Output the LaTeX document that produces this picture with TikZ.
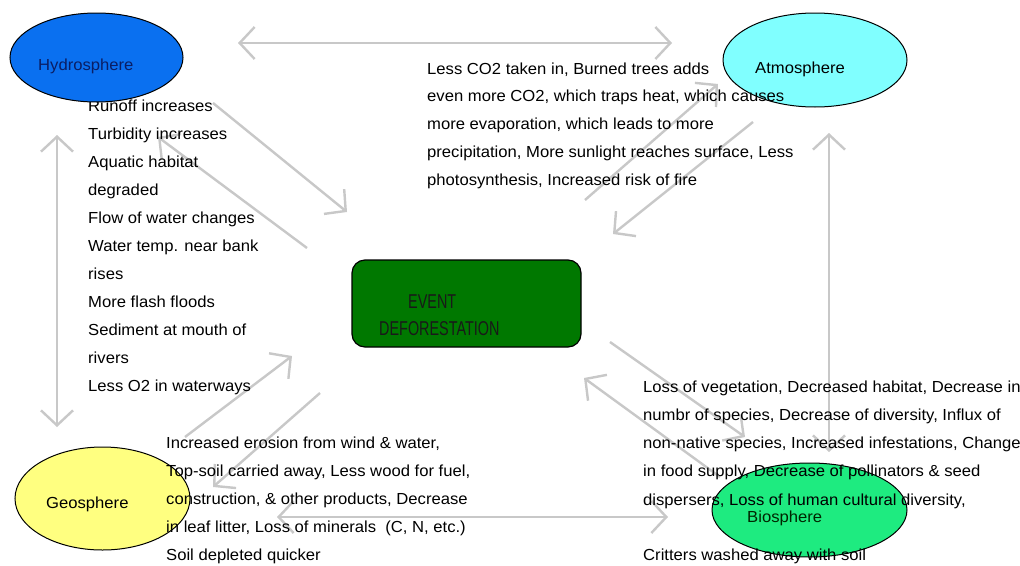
\documentclass[tikz,border=0pt]{standalone}
\usepackage{fontspec}
\setmainfont{Liberation Sans}[FakeStretch=1.04]
\newfontfamily\condfont{Liberation Sans}[FakeStretch=0.72]
\usetikzlibrary{arrows.meta,shapes.geometric}
\definecolor{arrowgray}{RGB}{200,200,200}
\definecolor{hydfill}{RGB}{10,112,240}
\definecolor{atmfill}{RGB}{128,255,255}
\definecolor{geofill}{RGB}{255,255,128}
\definecolor{biofill}{RGB}{30,235,128}
\definecolor{evtfill}{RGB}{0,120,0}
\definecolor{hydtext}{RGB}{10,30,100}
\tikzset{
  conn/.style={draw=arrowgray, line width=2.4pt, -{Straight Barb[length=15pt,width=32pt]}},
  biconn/.style={draw=arrowgray, line width=2.4pt, {Straight Barb[length=15pt,width=32pt]}-{Straight Barb[length=15pt,width=32pt]}},
  sphere/.style={ellipse, draw=black, line width=1pt, inner sep=0pt},
  txt/.style={anchor=base west, inner sep=0pt, font=\fontsize{16}{19}\selectfont, text=black},
  evttxt/.style={anchor=base west, inner sep=0pt, font=\condfont\fontsize{20}{24}\selectfont, text=black!90},
}
\begin{document}
\begin{tikzpicture}[x=1pt,y=-1pt]
\fill[white] (0,0) rectangle (1020,565);
\useasboundingbox (0,0) rectangle (1020,565);

% central event
\node[draw=black, line width=1.2pt, fill=evtfill, rounded corners=13pt,
      minimum width=229pt, minimum height=87pt, inner sep=0pt] (evt) at (466.5,303.5) {};
\node[evttxt] (evt1) at (408,308) {EVENT};
\node[evttxt] (evt2) at (379,335) {DEFORESTATION};

% spheres
\node[sphere, fill=atmfill, minimum width=184pt, minimum height=94pt] (atm) at (815,60) {};
\node[sphere, fill=geofill, minimum width=175pt, minimum height=103pt] (geo) at (102.5,498.5) {};
\node[sphere, fill=biofill, minimum width=195pt, minimum height=94pt] (bio) at (809.5,510) {};

% arrow end points
\coordinate (ta) at (238,43);  \coordinate (tb) at (672,43);
\coordinate (la) at (57,135);  \coordinate (lb) at (57,427);
\coordinate (ra) at (829,133); \coordinate (rb) at (829,452);
\coordinate (ba) at (277,517); \coordinate (bb) at (668,517);
\coordinate (h1) at (213,103); \coordinate (h2) at (347,212);
\coordinate (h3) at (307,248); \coordinate (h4) at (158,137);
\coordinate (a1) at (753,122); \coordinate (a2) at (613,234);
\coordinate (a3) at (585,200); \coordinate (a4) at (718,84);
\coordinate (b1) at (610,342); \coordinate (b2) at (745,437);
\coordinate (b3) at (720,477); \coordinate (b4) at (584,378);
\coordinate (g1) at (320,393); \coordinate (g2) at (213,487);
\coordinate (g3) at (185,437); \coordinate (g4) at (292,356);

\draw[biconn] (ta) -- (tb);
\draw[biconn] (la) -- (lb);
\draw[biconn] (ra) -- (rb);
\draw[biconn] (ba) -- (bb);
\draw[conn] (h1) -- (h2);
\draw[conn] (h3) -- (h4);
\draw[conn] (a1) -- (a2);
\draw[conn] (a3) -- (a4);
\draw[conn] (b1) -- (b2);
\draw[conn] (b3) -- (b4);
\draw[conn] (g1) -- (g2);
\draw[conn] (g3) -- (g4);

% hydrosphere effects
\foreach \t [count=\i] in {Runoff increases, Turbidity increases, Aquatic habitat, degraded,
  Flow of water changes, Water temp. near bank, rises, More flash floods,
  Sediment at mouth of, rivers, Less O2 in waterways}
  {\node[txt] (hydl\i) at (88,{111+28*(\i-1)}) {\t};}

\node[sphere, fill=hydfill, minimum width=173pt, minimum height=89pt] (hyd) at (96.5,57.5) {};

% atmosphere effects
\foreach \t [count=\i] in {{Less CO2 taken in, Burned trees adds},
  {even more CO2, which traps heat, which causes},
  {more evaporation, which leads to more},
  {precipitation, More sunlight reaches surface, Less},
  {photosynthesis, Increased risk of fire}}
  {\node[txt] (atml\i) at (427,{74+27.75*(\i-1)}) {\t};}

% geosphere effects
\foreach \t [count=\i] in {{Increased erosion from wind \& water,},
  {Top-soil carried away, Less wood for fuel,},
  {construction, \& other products, Decrease},
  {in leaf litter, Loss of minerals\ \ (C, N, etc.)},
  {Soil depleted quicker}}
  {\node[txt] (geol\i) at (166,{448+28*(\i-1)}) {\t};}

% biosphere effects
\foreach \t [count=\i] in {{Loss of vegetation, Decreased habitat, Decrease in},
  {numbr of species, Decrease of diversity, Influx of},
  {non-native species, Increased infestations, Change},
  {in food supply, Decrease of pollinators \& seed},
  {dispersers, Loss of human cultural diversity,}}
  {\node[txt] (biol\i) at (643,{392+28.25*(\i-1)}) {\t};}
\node[txt] (biol6) at (643,560) {Critters washed away with soil};

% sphere labels
\node[txt, text=hydtext] (hydlab) at (38,70) {Hydrosphere};
\node[txt] (atmlab) at (755,73) {Atmosphere};
\node[txt] (geolab) at (46,508) {Geosphere};
\node[txt, text=black!85!green] (biolab) at (747,522) {Biosphere};
\end{tikzpicture}
\end{document}
